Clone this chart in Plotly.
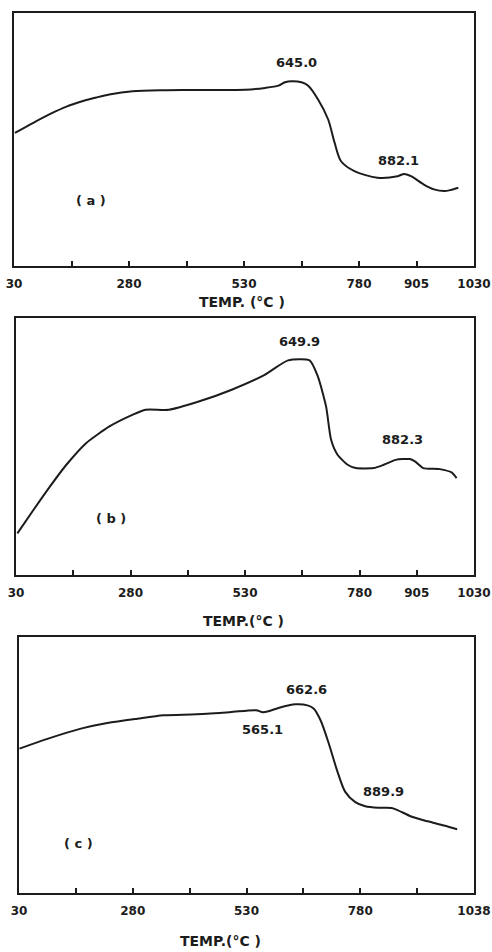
import plotly.graph_objects as go

# ---- data (temperature in deg C, signal in relative units 0..1) ----
temp_a = [32, 72, 110, 144, 180, 209, 237, 288, 360, 432, 533, 576, 605, 619, 634, 655, 669, 691, 713, 727, 741, 770, 820, 864, 878, 893, 921, 943, 965, 979, 996]
sig_a = [0.526, 0.566, 0.602, 0.630, 0.652, 0.666, 0.678, 0.691, 0.695, 0.696, 0.697, 0.704, 0.713, 0.726, 0.730, 0.726, 0.713, 0.658, 0.579, 0.487, 0.414, 0.375, 0.349, 0.355, 0.364, 0.355, 0.322, 0.303, 0.296, 0.300, 0.309]

temp_b = [33, 68, 104, 140, 183, 234, 284, 313, 364, 429, 501, 573, 624, 671, 689, 707, 718, 732, 754, 772, 811, 833, 859, 890, 901, 919, 955, 981, 992]
sig_b = [0.162, 0.253, 0.344, 0.429, 0.513, 0.578, 0.623, 0.643, 0.643, 0.675, 0.721, 0.779, 0.835, 0.835, 0.773, 0.656, 0.526, 0.468, 0.429, 0.416, 0.416, 0.429, 0.448, 0.451, 0.442, 0.416, 0.412, 0.399, 0.377]

temp_c = [31, 94, 166, 224, 290, 348, 420, 493, 551, 566, 580, 602, 638, 664, 678, 693, 711, 729, 747, 769, 791, 820, 849, 863, 892, 928, 964, 993]
sig_c = [0.564, 0.603, 0.642, 0.664, 0.681, 0.694, 0.698, 0.706, 0.714, 0.706, 0.711, 0.724, 0.737, 0.733, 0.720, 0.674, 0.583, 0.479, 0.395, 0.355, 0.339, 0.333, 0.332, 0.323, 0.299, 0.280, 0.264, 0.249]

tick_vals = [30, 155, 280, 405, 530, 655, 780, 905, 1030]
tick_text_ab = ["30", "", "280", "", "530", "", "780", "905", "1030"]
tick_text_c = ["30", "", "280", "", "530", "", "780", "", "1038"]

peak_labels_a = [("645.0", 644, 0.803), ("882.1", 866, 0.417), ("( a )", 198, 0.257)]
peak_labels_b = [("649.9", 649, 0.909), ("882.3", 873, 0.526), ("( b )", 237, 0.221)]
peak_labels_c = [("662.6", 661, 0.796), ("565.1", 566, 0.639), ("889.9", 830, 0.398), ("( c )", 161, 0.195)]

INK = "#1c1c1c"
FONT = dict(family="DejaVu Sans", size=13, color=INK, weight="bold")
TICK_FONT = dict(family="DejaVu Sans", size=12, color=INK, weight="bold")
TITLE_FONT = dict(family="DejaVu Sans", size=14, color=INK, weight="bold")

fig = go.Figure()
fig.add_trace(go.Scatter(x=temp_a, y=sig_a, mode="lines", line=dict(color=INK, width=2, shape="spline", smoothing=0.8), xaxis="x", yaxis="y", showlegend=False))
fig.add_trace(go.Scatter(x=temp_b, y=sig_b, mode="lines", line=dict(color=INK, width=2, shape="spline", smoothing=0.6), xaxis="x2", yaxis="y2", showlegend=False))
fig.add_trace(go.Scatter(x=temp_c, y=sig_c, mode="lines", line=dict(color=INK, width=2, shape="spline", smoothing=0.8), xaxis="x3", yaxis="y3", showlegend=False))

W, H = 492, 952

def xax(x0, x1, y_anchor, texts):
    return dict(domain=[x0 / W, x1 / W], range=[30, 1030], anchor=y_anchor,
                tickmode="array", tickvals=tick_vals, ticktext=texts,
                ticks="inside", ticklen=5, tickwidth=2, tickcolor=INK,
                ticklabelstandoff=6, ticklabeloverflow="allow", automargin=False,
                showline=True, linecolor=INK, linewidth=2, mirror=True,
                showgrid=False, zeroline=False, tickfont=TICK_FONT)

def yax(top, bottom, x_anchor):
    return dict(domain=[1 - bottom / H, 1 - top / H], range=[0, 1], anchor=x_anchor,
                showticklabels=False, ticks="", showline=True, linecolor=INK,
                linewidth=2, mirror=True, showgrid=False, zeroline=False, automargin=False)

annotations = []
for lbls, xr, yr in [(peak_labels_a, "x", "y"), (peak_labels_b, "x2", "y2"), (peak_labels_c, "x3", "y3")]:
    for t, xv, yv in lbls:
        annotations.append(dict(text=t, x=xv, y=yv, xref=xr, yref=yr, showarrow=False, font=FONT))

for t, px, py in [("TEMP. (°C )", 242, 302), ("TEMP.(°C )", 243, 621), ("TEMP.(°C )", 220, 941)]:
    annotations.append(dict(text=t, x=px / W, y=1 - py / H, xref="paper", yref="paper",
                            showarrow=False, font=TITLE_FONT, xanchor="center", yanchor="middle"))

fig.update_layout(
    width=W, height=H,
    margin=dict(l=0, r=0, t=0, b=0, autoexpand=False),
    paper_bgcolor="white", plot_bgcolor="white",
    xaxis=xax(14, 474, "y", tick_text_ab),
    yaxis=yax(13, 266, "x"),
    xaxis2=xax(16, 474, "y2", tick_text_ab),
    yaxis2=yax(318, 575, "x2"),
    xaxis3=xax(19, 474, "y3", tick_text_c),
    yaxis3=yax(637, 893, "x3"),
    annotations=annotations,
)

fig.write_html("out.html")
